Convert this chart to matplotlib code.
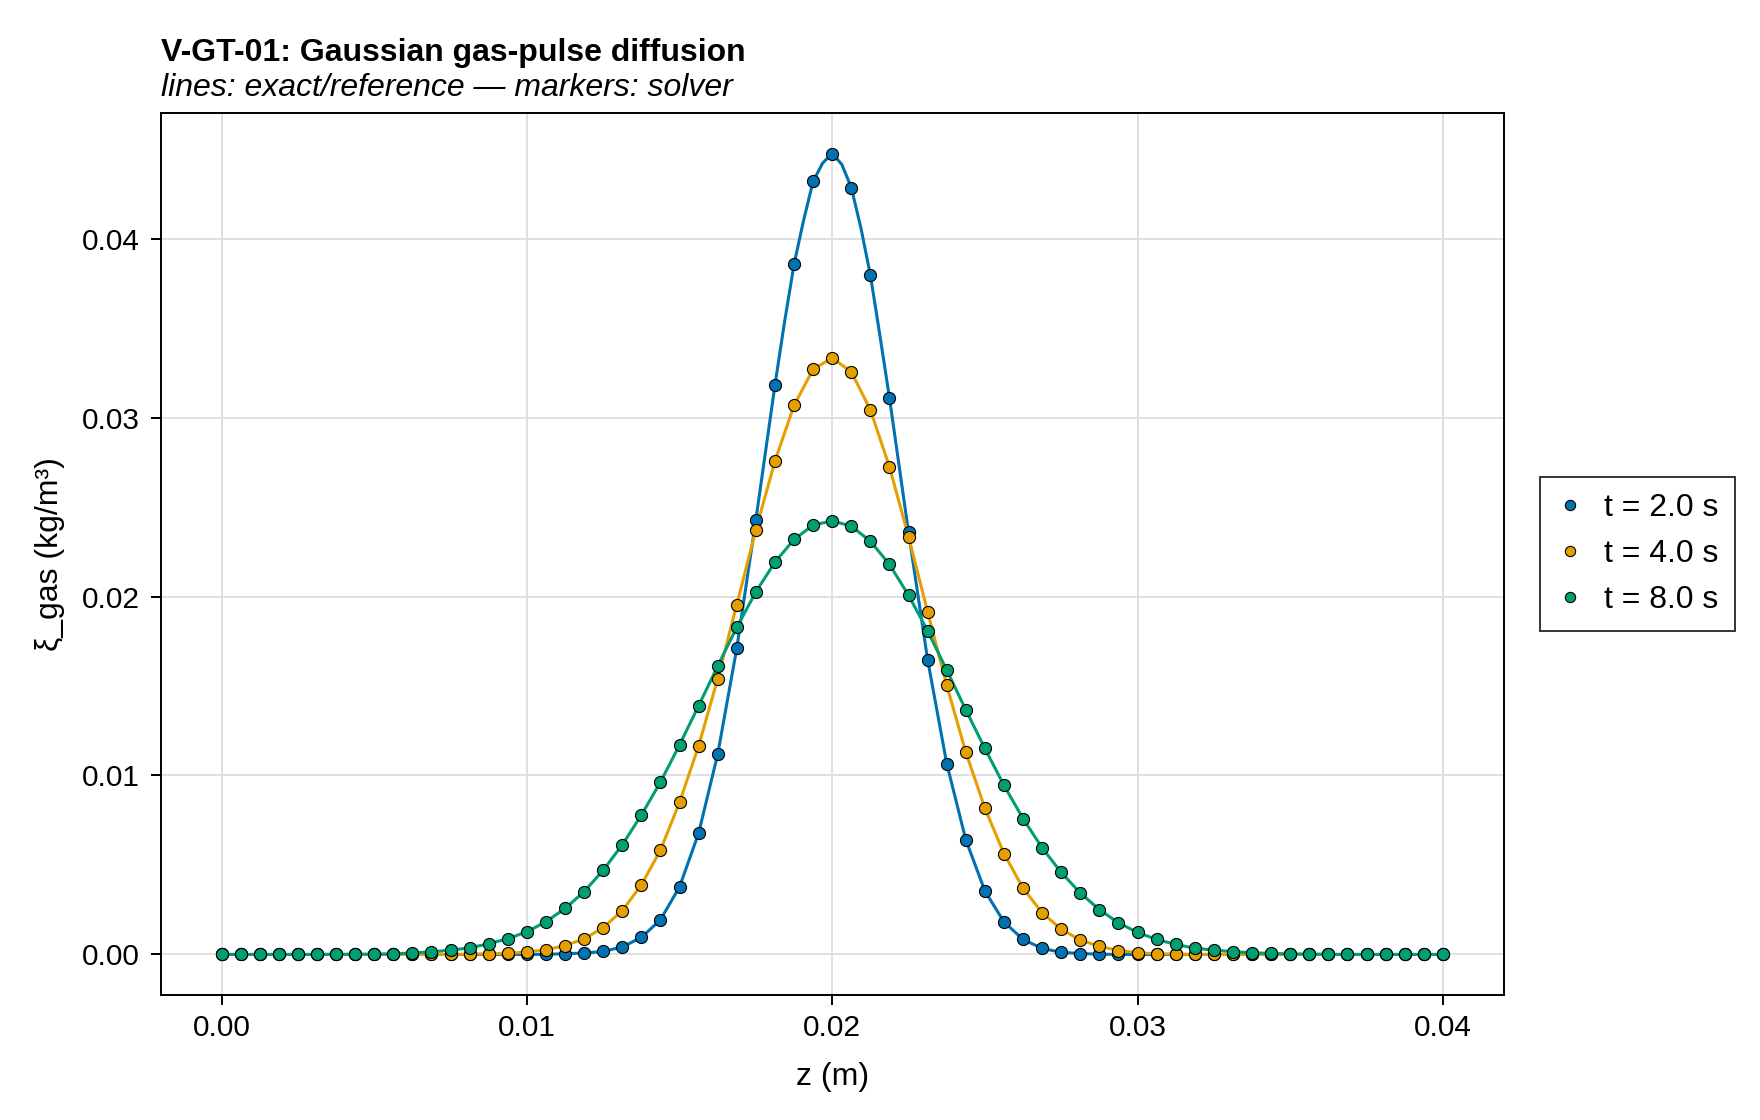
import numpy as np
import matplotlib

matplotlib.use("Agg")
import matplotlib.pyplot as plt

# grid of 65 solver nodes on [0, 0.04] m
z = np.linspace(0.0, 0.04, 65)

labels = ["t = 2.0 s", "t = 4.0 s", "t = 8.0 s"]
colors = ["#0072B2", "#E69F00", "#009E73"]

# values (kg/m^3)
xi_t2 = [
    0.0, 0.0, 0.0, 0.0, 0.0, 0.0, 0.0, 0.0, 0.0, 0.0,
    0.0, 0.0, 0.0, 0.0, 0.0, 0.0, 0.0, 0.00001, 0.00004, 0.00008,
    0.00017, 0.00042, 0.00095, 0.00194, 0.00378, 0.00678, 0.01119, 0.01712, 0.02429, 0.03182,
    0.03856, 0.04320, 0.04475, 0.04285, 0.03796, 0.03110, 0.02358, 0.01647, 0.01067, 0.00641,
    0.00355, 0.00182, 0.00084, 0.00034, 0.00012, 0.00005, 0.00002, 0.0, 0.0, 0.0,
    0.0, 0.0, 0.0, 0.0, 0.0, 0.0, 0.0, 0.0, 0.0, 0.0,
    0.0, 0.0, 0.0, 0.0, 0.0,
]
xi_t4 = [
    0.0, 0.0, 0.0, 0.0, 0.0, 0.0, 0.0, 0.0, 0.0, 0.0,
    0.0, 0.0, 0.0, 0.00002, 0.00003, 0.00006, 0.00014, 0.00026, 0.00050, 0.00087,
    0.00150, 0.00245, 0.00389, 0.00583, 0.00850, 0.01166, 0.01541, 0.01955, 0.02373, 0.02757,
    0.03068, 0.03270, 0.03333, 0.03255, 0.03043, 0.02724, 0.02334, 0.01914, 0.01504, 0.01130,
    0.00817, 0.00564, 0.00370, 0.00233, 0.00141, 0.00081, 0.00045, 0.00022, 0.00010, 0.00004,
    0.00002, 0.0, 0.0, 0.0, 0.0, 0.0, 0.0, 0.0, 0.0, 0.0,
    0.0, 0.0, 0.0, 0.0, 0.0,
]
xi_t8 = [
    0.0, 0.0, 0.0, 0.0, 0.0, 0.0, 0.00001, 0.00001, 0.00002, 0.00004,
    0.00008, 0.00015, 0.00024, 0.00037, 0.00060, 0.00088, 0.00127, 0.00183, 0.00257, 0.00351,
    0.00471, 0.00613, 0.00779, 0.00963, 0.01171, 0.01390, 0.01612, 0.01828, 0.02026, 0.02192,
    0.02319, 0.02399, 0.02423, 0.02393, 0.02309, 0.02179, 0.02007, 0.01808, 0.01589, 0.01367,
    0.01151, 0.00945, 0.00759, 0.00596, 0.00458, 0.00344, 0.00250, 0.00177, 0.00123, 0.00084,
    0.00056, 0.00035, 0.00024, 0.00016, 0.00009, 0.00006, 0.00003, 0.00002, 0.00001, 0.0,
    0.0, 0.0, 0.0, 0.0, 0.0,
]
series = [xi_t2, xi_t4, xi_t8]

# extra points of the t = 2 s reference line read between the nodes near the peak
peak_z_t2 = [0.0184375, 0.0190625, 0.0196875, 0.0203125, 0.0209375, 0.0215625]
peak_xi_t2 = [0.03533, 0.04102, 0.04422, 0.04415, 0.04061, 0.03458]

xticks = [0.00, 0.01, 0.02, 0.03, 0.04]
yticks = [0.00, 0.01, 0.02, 0.03, 0.04]

plt.rcParams["font.family"] = ["Liberation Sans", "DejaVu Sans"]

fig = plt.figure(figsize=(17.6, 11.2), dpi=100, facecolor="white")
ax = fig.add_axes([0.0912, 0.112, 0.7633, 0.7867])

for k, (vals, color, label) in enumerate(zip(series, colors, labels)):
    lz = np.asarray(z)
    lv = np.asarray(vals)
    if k == 0:
        lz = np.concatenate([lz, peak_z_t2])
        lv = np.concatenate([lv, peak_xi_t2])
        order = np.argsort(lz)
        lz, lv = lz[order], lv[order]
    ax.plot(lz, lv, color=color, linewidth=2.2, zorder=3)
    ax.plot(z, vals, linestyle="none", marker="o", markersize=8.7,
            markerfacecolor=color, markeredgecolor="black", markeredgewidth=0.8,
            label=label, zorder=4)

ax.set_xlim(-0.002, 0.042)
ax.set_ylim(-0.00224, 0.04699)
ax.set_xticks(xticks)
ax.set_yticks(yticks)
ax.set_xticklabels([f"{v:.2f}" for v in xticks])
ax.set_yticklabels([f"{v:.2f}" for v in yticks])
ax.tick_params(direction="out", length=7.2, width=1.4, labelsize=21.5, colors="black")
ax.tick_params(axis="x", pad=6.5)
ax.tick_params(axis="y", pad=8)
ax.grid(True, color="#e0e0e0", linewidth=1.4, zorder=0)
ax.set_axisbelow(True)
for spine in ax.spines.values():
    spine.set_linewidth(1.4)
    spine.set_color("black")

ax.set_xlabel("z (m)", fontsize=23, labelpad=14.5)
ax.set_ylabel("ξ_gas (kg/m³)", fontsize=23, labelpad=12)

fig.text(0.0912, 1 - 61 / 1120, "V-GT-01: Gaussian gas-pulse diffusion",
         fontsize=23, fontweight="bold", ha="left", va="baseline")
fig.text(0.0912, 1 - 96 / 1120, "lines: exact/reference — markers: solver",
         fontsize=23, fontstyle="italic", ha="left", va="baseline")

leg = ax.legend(loc="center left", bbox_to_anchor=(1.0268, 0.5), fontsize=23,
                frameon=True, fancybox=False, numpoints=1, markerscale=0.85,
                handlelength=0.875, handletextpad=0.64, labelspacing=0.51,
                borderpad=0.5, borderaxespad=0.0)
leg.get_frame().set_edgecolor("black")
leg.get_frame().set_linewidth(1.4)

fig.savefig("out.png", dpi=100, facecolor="white")
